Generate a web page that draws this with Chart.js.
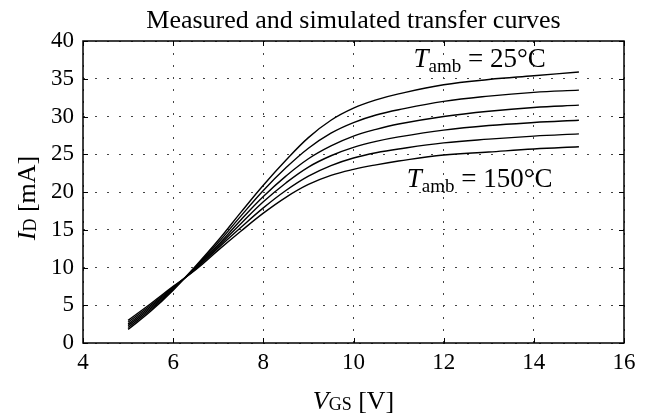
<!DOCTYPE html>
<html>
<head>
<meta charset="utf-8">
<script src="https://cdn.jsdelivr.net/npm/chart.js@4.4.0/dist/chart.umd.min.js"></script>
<style>
  html, body { margin: 0; padding: 0; background: #fff; }
  #wrap { width: 663px; height: 417px; }
</style>
</head>
<body>
<div id="wrap"><canvas id="transferChart" width="663" height="417"></canvas></div>
<script>
// gate voltage samples [V]
const vgs = [5, 5.5, 6, 6.5, 7, 7.5, 8, 8.5, 9, 9.5, 10, 10.5, 11, 12, 13, 14, 15];

// drain current [mA], one curve per ambient temperature
const id25  = [1.8, 4.2, 7.0, 10.2, 13.6, 17.3, 20.9, 24.2, 27.2, 29.5, 31.1, 32.2, 33.0, 34.2, 34.9, 35.4, 35.9];
const id50  = [2.05, 4.4, 7.1, 10.1, 13.3, 16.8, 20.2, 23.2, 25.8, 27.8, 29.2, 30.2, 30.9, 32.0, 32.7, 33.2, 33.5];
const id75  = [2.3, 4.6, 7.2, 10.0, 13.0, 16.3, 19.4, 22.1, 24.4, 26.1, 27.4, 28.3, 29.0, 30.0, 30.7, 31.2, 31.5];
const id100 = [2.5, 4.8, 7.3, 9.9, 12.8, 15.8, 18.7, 21.2, 23.3, 24.8, 25.9, 26.7, 27.3, 28.2, 28.8, 29.2, 29.5];
const id125 = [2.75, 5.0, 7.4, 9.8, 12.6, 15.3, 17.9, 20.2, 22.1, 23.5, 24.5, 25.2, 25.7, 26.5, 27.0, 27.4, 27.7];
const id150 = [3.0, 5.2, 7.5, 9.7, 12.3, 14.8, 17.2, 19.3, 21.0, 22.2, 23.0, 23.6, 24.1, 24.9, 25.3, 25.7, 26.0];

const curves = [id25, id50, id75, id100, id125, id150];
const tempLabels = ['25°C', '50°C', '75°C', '100°C', '125°C', '150°C'];

const xTicks = [4, 6, 8, 10, 12, 14, 16];
const yTicks = [0, 5, 10, 15, 20, 25, 30, 35, 40];

const SERIF = '"Liberation Serif", "DejaVu Serif", serif';

// write text made of pieces (normal / italic / subscript), centred on cx
function drawPieces(ctx, cx, baseline, pieces) {
  let total = 0;
  pieces.forEach(p => { ctx.font = p.font; total += ctx.measureText(p.t).width; });
  let x = cx - total / 2;
  ctx.textAlign = 'left';
  ctx.textBaseline = 'alphabetic';
  pieces.forEach(p => {
    ctx.font = p.font;
    ctx.fillText(p.t, x, baseline + (p.dy || 0));
    x += ctx.measureText(p.t).width;
  });
}

const decorations = {
  id: 'decorations',
  afterDatasetsDraw(chart) {
    const { ctx, chartArea: a, scales } = chart;
    const xs = scales.x, ys = scales.y;
    ctx.save();
    ctx.strokeStyle = '#000';
    ctx.lineWidth = 1;

    // inward major ticks on all four sides
    ctx.beginPath();
    xTicks.forEach(v => {
      const px = Math.round(xs.getPixelForValue(v)) + 0.5;
      ctx.moveTo(px, a.bottom); ctx.lineTo(px, a.bottom - 5);
      ctx.moveTo(px, a.top); ctx.lineTo(px, a.top + 5);
    });
    yTicks.forEach(v => {
      const py = Math.round(ys.getPixelForValue(v)) + 0.5;
      ctx.moveTo(a.left, py); ctx.lineTo(a.left + 5, py);
      ctx.moveTo(a.right, py); ctx.lineTo(a.right - 5, py);
    });
    ctx.stroke();

    // frame
    ctx.lineWidth = 1.5;
    ctx.strokeRect(a.left, a.top, a.right - a.left, a.bottom - a.top);

    ctx.fillStyle = '#000';
    // title
    ctx.font = '26px ' + SERIF;
    ctx.textAlign = 'center';
    ctx.textBaseline = 'alphabetic';
    ctx.fillText('Measured and simulated transfer curves', (a.left + a.right) / 2, 28);

    // x axis title
    drawPieces(ctx, (a.left + a.right) / 2, 409, [
      { t: 'V', font: 'italic 26px ' + SERIF },
      { t: 'GS', font: '18px ' + SERIF, dy: 1 },
      { t: ' [V]', font: '26px ' + SERIF }
    ]);

    // y axis title (rotated)
    ctx.save();
    ctx.translate(35, (a.top + a.bottom) / 2 + 6);
    ctx.rotate(-Math.PI / 2);
    drawPieces(ctx, 0, 0, [
      { t: 'I', font: 'italic 26px ' + SERIF },
      { t: 'D', font: '18px ' + SERIF, dy: 1 },
      { t: ' [mA]', font: '26px ' + SERIF }
    ]);
    ctx.restore();

    // temperature annotations
    const first = tempLabels[0], last = tempLabels[tempLabels.length - 1];
    drawPieces(ctx, xs.getPixelForValue(12.8), ys.getPixelForValue(36.6), [
      { t: 'T', font: 'italic 27px ' + SERIF },
      { t: 'amb', font: '19px ' + SERIF, dy: 5 },
      { t: ' = ' + first, font: '27px ' + SERIF }
    ]);
    drawPieces(ctx, xs.getPixelForValue(12.8), ys.getPixelForValue(20.6), [
      { t: 'T', font: 'italic 27px ' + SERIF },
      { t: 'amb', font: '19px ' + SERIF, dy: 5 },
      { t: ' = ' + last, font: '27px ' + SERIF }
    ]);
    ctx.restore();
  }
};

const ctx = document.getElementById('transferChart').getContext('2d');
new Chart(ctx, {
  type: 'line',
  data: {
    datasets: curves.map((c, i) => ({
      label: tempLabels[i],
      data: vgs.map((v, j) => ({ x: v, y: c[j] })),
      borderColor: '#000',
      borderWidth: 1.4,
      pointRadius: 0,
      fill: false,
      tension: 0.4
    }))
  },
  options: {
    responsive: false,
    animation: false,
    layout: { padding: { top: 41, right: 39, left: 0, bottom: 0 } },
    plugins: {
      legend: { display: false },
      tooltip: { enabled: false }
    },
    scales: {
      x: {
        type: 'linear',
        min: 4, max: 16,
        afterBuildTicks: s => { s.ticks = xTicks.map(v => ({ value: v })); },
        afterFit: s => { s.height = 74; },
        ticks: { color: '#000', padding: 6, font: { family: SERIF, size: 23 } },
        grid: { color: '#444', lineWidth: 1, drawTicks: false },
        border: { display: false, dash: [2, 10] }
      },
      y: {
        min: 0, max: 40,
        afterBuildTicks: s => { s.ticks = yTicks.map(v => ({ value: v })); },
        afterFit: s => { s.width = 83; },
        ticks: { color: '#000', padding: 9, font: { family: SERIF, size: 23 } },
        grid: { color: '#444', lineWidth: 1, drawTicks: false },
        border: { display: false, dash: [2, 10] }
      }
    }
  },
  plugins: [decorations]
});
</script>
</body>
</html>
